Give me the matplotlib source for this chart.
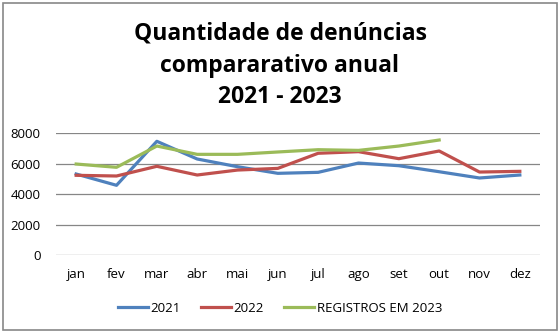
import matplotlib
matplotlib.use("Agg")
import matplotlib.pyplot as plt
from matplotlib.patches import Rectangle

months = ["jan", "fev", "mar", "abr", "mai", "jun", "jul", "ago", "set", "out", "nov", "dez"]
s2021 = [5330, 4590, 7475, 6315, 5810, 5375, 5440, 6050, 5875, 5480, 5070, 5265]
s2022 = [5245, 5200, 5835, 5265, 5590, 5700, 6690, 6795, 6335, 6840, 5460, 5505]
s2023 = [5985, 5770, 7165, 6620, 6620, 6775, 6925, 6880, 7165, 7560]
yticks = [0, 2000, 4000, 6000, 8000]
title = "Quantidade de denúncias\ncompararativo anual\n2021 - 2023"

plt.rcParams['font.family'] = ['Open Sans', 'DejaVu Sans']

fig = plt.figure(figsize=(5.6, 3.35), dpi=100)
fig.patches.append(Rectangle((3/560, 5/335), 554/560, 327/335, transform=fig.transFigure,
                             fill=False, edgecolor="#888888", linewidth=1.2))

ax = fig.add_axes([56/560, 1 - 255.3/335, 484/560, 122/335])
x = list(range(len(months)))
ax.plot(x, s2021, color="#4F81BD", lw=2.3, label="2021")
ax.plot(x, s2022, color="#C0504D", lw=2.3, label="2022")
ax.plot(x[:len(s2023)], s2023, color="#9BBB59", lw=2.3, label="REGISTROS EM 2023")

ax.set_xlim(-0.5, 11.5)
ax.set_ylim(0, 8000)
ax.set_yticks(yticks)
ax.set_yticklabels([str(v) for v in yticks])
ax.set_xticks(x)
ax.set_xticklabels(months)
ax.grid(axis="y", color="#868686", lw=0.9)
ax.set_axisbelow(True)
for s in ax.spines.values():
    s.set_visible(False)
ax.tick_params(length=0, labelsize=9.5, colors="black")
ax.tick_params(axis="y", pad=11)
ax.tick_params(axis="x", pad=9)

fig.text(0.5, 1 - 65.5/335, title, ha="center", va="center", fontsize=16.5,
         fontweight="bold", linespacing=1.42)

leg = fig.legend(loc="center", bbox_to_anchor=(0.5, 1 - 308/335), ncol=3, frameon=False,
                 fontsize=9.5, handlelength=2.3, handletextpad=0.2, columnspacing=1.5)

fig.savefig("out.png", dpi=100)
